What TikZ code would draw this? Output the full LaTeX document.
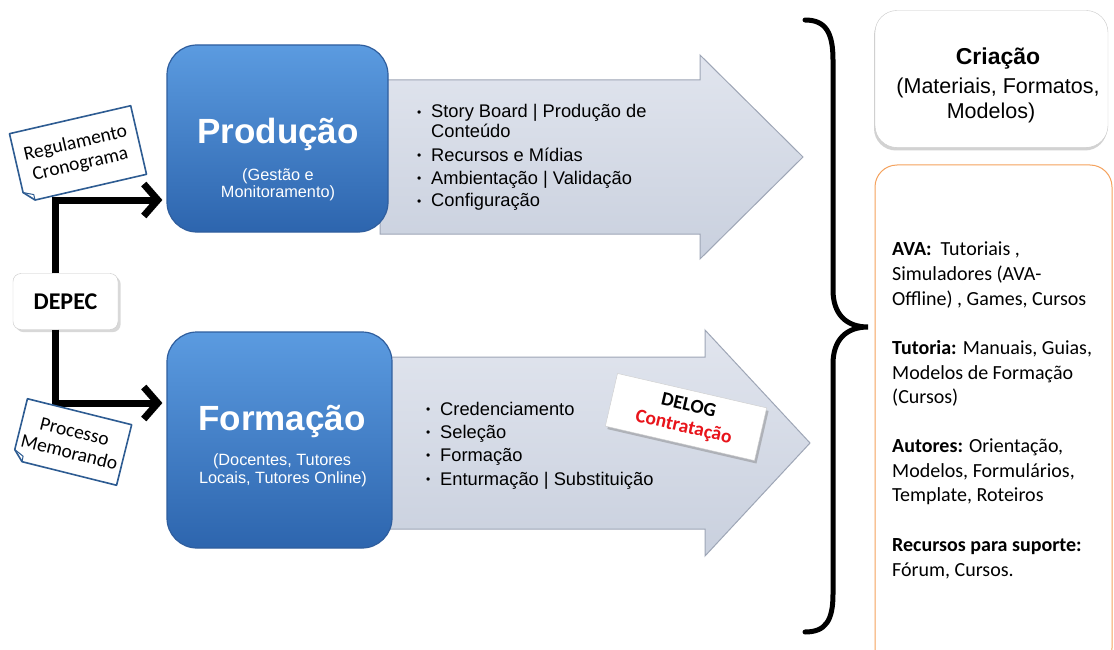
\documentclass[tikz,border=0pt]{standalone}
\usepackage{fontspec}
\setmainfont{Liberation Sans}
\newfontfamily\calfont{Carlito}
\usetikzlibrary{shadows,arrows.meta,calc}
\definecolor{bluetop}{HTML}{5B9BE0}
\definecolor{bluebot}{HTML}{2D65AE}
\definecolor{blueedge}{HTML}{2F5E9E}
\definecolor{arrtop}{HTML}{E1E5EE}
\definecolor{arrbot}{HTML}{C9D0DE}
\definecolor{arredge}{HTML}{9EA6B6}
\definecolor{noteblue}{HTML}{2E5C92}
\definecolor{boxgray}{HTML}{C9C9C9}
\definecolor{orangeedge}{HTML}{F5A25D}
\definecolor{delogred}{HTML}{E8141B}
\begin{document}
\begin{tikzpicture}[x=1pt,y=-1pt,
  bluebox/.style={draw=blueedge,line width=1.2pt,rounded corners=30pt,top color=bluetop,bottom color=bluebot,inner sep=0pt},
  arrowshape/.style={draw=arredge,line width=1pt,top color=arrtop,bottom color=arrbot},
  bul/.style={anchor=base west,inner sep=0pt,font=\fontsize{18.3}{20}\selectfont},
  titletext/.style={anchor=base,inner sep=0pt,text=white,font=\bfseries\fontsize{35}{40}\selectfont},
  subtext/.style={anchor=base,inner sep=0pt,text=white,font=\fontsize{16.3}{18}\selectfont},
  conn/.style={line width=7pt,-{Straight Barb[length=14pt,width=32pt]}},
  notecard/.style={fill=white,inner sep=0pt,align=center,font=\calfont\fontsize{19.5}{21.5}\selectfont},
  noteline/.style={draw=noteblue,line width=1.6pt,line join=round},
  rt/.style={anchor=base west,inner sep=0pt,font=\calfont\fontsize{20}{24}\selectfont},
  cr/.style={anchor=base,inner sep=0pt,font=\fontsize{21.5}{24}\selectfont},
]
\newcommand\bdot{\makebox[14pt][l]{\raisebox{1.8pt}{\fontsize{12}{12}\selectfont\textbullet}}}
\fill[white] (0,0) rectangle (1114,650);
\useasboundingbox (0,0) rectangle (1114,650);

% big arrows
\path[arrowshape] (380,80) -- (700,80) -- (700,55) -- (803,157) -- (700,259) -- (700,234) -- (380,234) -- cycle;
\path[arrowshape] (385,357) -- (705,357) -- (705,330) -- (810,443) -- (705,556) -- (705,529) -- (385,529) -- cycle;

% blue boxes
\node[bluebox,minimum width=221pt,minimum height=187pt] (prod) at (277.5,138.5) {};
\node[bluebox,minimum width=225pt,minimum height=216pt] (form) at (279.5,440) {};

\node[titletext] (prodT) at (278,143) {Produção};
\node[subtext] (prodS1) at (278,180) {(Gestão e};
\node[subtext] (prodS2) at (278,197) {Monitoramento)};
\node[titletext] (formT) at (282,430) {Formação};
\node[subtext] (formS1) at (282,465) {(Docentes, Tutores};
\node[subtext] (formS2) at (283,483) {Locais, Tutores Online)};

% bullets
\node[bul] (p1) at (417,118) {\bdot Story Board | Produção de};
\node[bul] (p2) at (431,138) {Conteúdo};
\node[bul] (p3) at (417,161) {\bdot Recursos e Mídias};
\node[bul] (p4) at (417,184) {\bdot Ambientação | Validação};
\node[bul] (p5) at (417,207) {\bdot Configuração};

\node[bul] (f1) at (426,415) {\bdot Credenciamento};
\node[bul] (f2) at (426,438) {\bdot Seleção};
\node[bul] (f3) at (426,461) {\bdot Formação};
\node[bul] (f4) at (426,485) {\bdot Enturmação | Substituição};

% DELOG card
\node[fill=white,draw=gray!40,drop shadow={opacity=0.45,shadow xshift=2pt,shadow yshift=-3pt},rotate=-13,minimum width=153pt,minimum height=54pt,align=center,inner sep=0pt,font=\calfont\bfseries\fontsize{19.5}{22}\selectfont] (delog) at (686,417) {DELOG\\\textcolor{delogred}{Contratação}};

% DEPEC and connectors
\node[draw=boxgray,fill=white,rounded corners=8pt,drop shadow={opacity=0.3},minimum width=105pt,minimum height=56pt,font=\calfont\bfseries\fontsize{24}{28}\selectfont] (depec) at (65.5,301.5) {DEPEC};
\draw[conn] ([xshift=-10.5pt]depec.north) |- ([xshift=-4pt,yshift=-61.5pt]prod.west);
\draw[conn] ([xshift=-10.5pt]depec.south) |- ([xshift=-4pt,yshift=37pt]form.west);

% note cards
\node[notecard,rotate=13,minimum width=124pt,minimum height=70pt] (reg) at (78,154) {Regulamento\\Cronograma};
\draw[noteline] ($(reg.south west)!10pt!(reg.south east)$) -- (reg.south east) -- (reg.north east) -- (reg.north west) -- ($(reg.south west)!10pt!(reg.north west)$) -- cycle;
\draw[noteline,line width=1pt] ($(reg.south west)!10pt!(reg.north west)$) -- ($(reg.south west)!0.08!(reg.north east)$) -- ($(reg.south west)!10pt!(reg.south east)$);

\node[notecard,rotate=-14,minimum width=107pt,minimum height=62pt] (proc) at (72,442) {Processo\\Memorando};
\draw[noteline] ($(proc.south west)!10pt!(proc.south east)$) -- (proc.south east) -- (proc.north east) -- (proc.north west) -- ($(proc.south west)!10pt!(proc.north west)$) -- cycle;
\draw[noteline,line width=1pt] ($(proc.south west)!10pt!(proc.north west)$) -- ($(proc.south west)!0.09!(proc.north east)$) -- ($(proc.south west)!10pt!(proc.south east)$);

% brace
\draw[line width=5pt,line cap=round] (805,20) .. controls (826,20) and (833,33) .. (833,60) -- (833,290) .. controls (833,314) and (846,327) .. (868,327) .. controls (846,327) and (833,340) .. (833,364) -- (833,594) .. controls (833,620) and (826,632) .. (805,632);

% right boxes
\node[draw=boxgray,fill=white,rounded corners=22pt,drop shadow={shadow xshift=-1pt,shadow yshift=-3pt,opacity=0.35},minimum width=233pt,minimum height=137pt] (cria) at (991.5,79) {};
\node[anchor=base,inner sep=0pt,font=\bfseries\fontsize{23}{26}\selectfont] (criaT) at (998,65) {Criação};
\node[cr] (cria2) at (998,94) {(Materiais, Formatos,};
\node[cr] (cria3) at (991,119) {Modelos)};

\node[draw=orangeedge,line width=1pt,fill=white,rounded corners=22pt,minimum width=237pt,minimum height=505pt] (res) at (993.5,417.5) {};
\node[rt] (r1) at (892,255) {\textbf{AVA:}\ \ Tutoriais ,};
\node[rt] (r2) at (892,280) {Simuladores (AVA-};
\node[rt] (r3) at (892,305) {Offline) , Games, Cursos};
\node[rt] (r4) at (892,354) {\textbf{Tutoria:} Manuais, Guias,};
\node[rt] (r5) at (892,379) {Modelos de Formação};
\node[rt] (r6) at (892,403) {(Cursos)};
\node[rt] (r7) at (892,452) {\textbf{Autores:} Orientação,};
\node[rt] (r8) at (892,477) {Modelos, Formulários,};
\node[rt] (r9) at (892,501) {Template, Roteiros};
\node[rt] (r10) at (892,551) {\textbf{Recursos para suporte:}};
\node[rt] (r11) at (892,576) {Fórum, Cursos.};
\end{tikzpicture}
\end{document}
